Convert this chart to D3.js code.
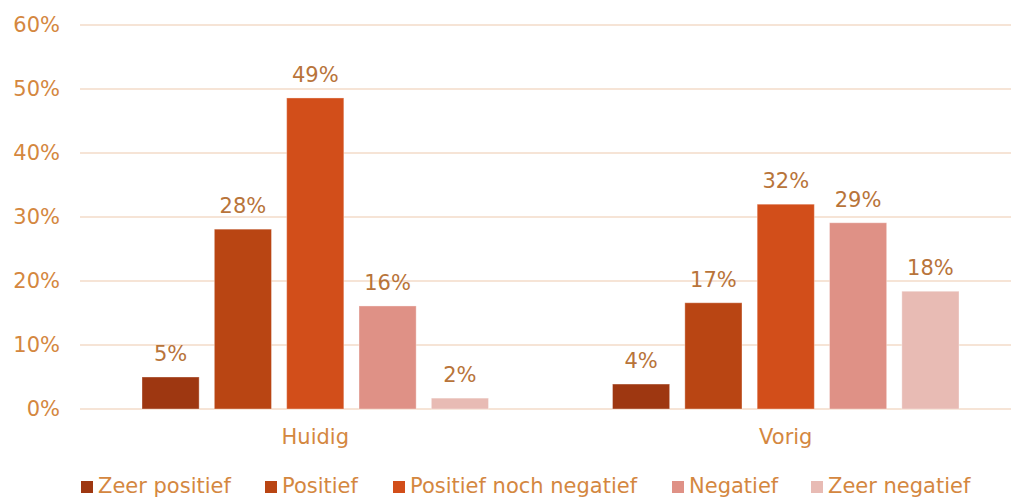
<!DOCTYPE html>
<html>
<head>
<meta charset="utf-8">
<script src="https://cdn.jsdelivr.net/npm/d3@7"></script>
<style>
  html, body { margin: 0; padding: 0; background: #fff; }
  svg { display: block; font-family: Verdana, "DejaVu Sans", sans-serif; }
</style>
</head>
<body>
<svg id="chart" width="1011" height="498"></svg>
<script>
// Periods on the x axis
const categories = ["Huidig", "Vorig"];
// Answer options (legend order)
const series = ["Zeer positief", "Positief", "Positief noch negatief", "Negatief", "Zeer negatief"];
// Shares per period, same order as series
const huidigValues = [0.050, 0.281, 0.486, 0.161, 0.017];
const vorigValues = [0.039, 0.166, 0.320, 0.291, 0.184];
// Y axis ticks
const yTicks = [0, 0.1, 0.2, 0.3, 0.4, 0.5, 0.6];

const colors = ["#9e3711", "#b94513", "#d24e1a", "#df9186", "#e8bbb4"];

const data = categories.map((c, i) => ({
  category: c,
  values: (i === 0 ? huidigValues : vorigValues).map((v, j) => ({ key: series[j], value: v }))
}));

const svg = d3.select("#chart");
const margin = { left: 80, right: -10, top: 25, bottom: 89 };
const width = 1011 - margin.left - margin.right;
const height = 498 - margin.top - margin.bottom;

const g = svg.append("g").attr("transform", `translate(${margin.left},${margin.top})`);

const x0 = d3.scaleBand().domain(categories).range([0, width]).paddingInner(0).paddingOuter(0);
const x1 = d3.scaleBand().domain(series).range([62, x0.bandwidth() - 62]).paddingInner(0.21).paddingOuter(0);
const y = d3.scaleLinear().domain([0, 0.6]).range([height, 0]);

const tickColor = "#d4873f";
const labelColor = "#b8743a";
const gridColor = "#f6e4d6";

// Gridlines
g.append("g")
  .selectAll("line")
  .data(yTicks)
  .join("line")
  .attr("x1", 0)
  .attr("x2", width)
  .attr("y1", d => y(d))
  .attr("y2", d => y(d))
  .attr("stroke", gridColor)
  .attr("stroke-width", 2);

// Y axis labels
const yAxis = g.append("g")
  .call(d3.axisLeft(y).tickValues(yTicks).tickFormat(d3.format(".0%")).tickSize(0).tickPadding(20));
yAxis.select(".domain").remove();
yAxis.selectAll("text")
  .attr("fill", tickColor)
  .style("font-size", "21px")
  .style("font-family", "Verdana, 'DejaVu Sans', sans-serif");

// X axis labels
const xAxis = g.append("g")
  .attr("transform", `translate(0,${height})`)
  .call(d3.axisBottom(x0).tickSize(0).tickPadding(20));
xAxis.select(".domain").remove();
xAxis.selectAll("text")
  .attr("fill", tickColor)
  .style("font-size", "21px")
  .style("font-family", "Verdana, 'DejaVu Sans', sans-serif");

// Bars
const groups = g.selectAll(".grp")
  .data(data)
  .join("g")
  .attr("class", "grp")
  .attr("transform", d => `translate(${x0(d.category)},0)`);

groups.selectAll("rect")
  .data(d => d.values)
  .join("rect")
  .attr("x", d => x1(d.key))
  .attr("width", x1.bandwidth())
  .attr("y", d => y(d.value))
  .attr("height", d => y(0) - y(d.value))
  .attr("fill", (d, i) => colors[i])
  .attr("stroke", "#ffffff")
  .attr("stroke-opacity", 0.35)
  .attr("stroke-width", 1);

// Value labels
groups.selectAll("text.val")
  .data(d => d.values)
  .join("text")
  .attr("class", "val")
  .attr("x", d => x1(d.key) + x1.bandwidth() / 2)
  .attr("y", d => y(d.value) - 16)
  .attr("text-anchor", "middle")
  .attr("fill", labelColor)
  .style("font-size", "21px")
  .text(d => d3.format(".0%")(d.value));

// Legend
const legendX = [81, 265, 393, 672, 811];
const legend = svg.append("g");
const items = legend.selectAll("g")
  .data(series)
  .join("g")
  .attr("transform", (d, i) => `translate(${legendX[i]},0)`);
items.append("rect")
  .attr("x", 0)
  .attr("y", 481)
  .attr("width", 12)
  .attr("height", 12)
  .attr("fill", (d, i) => colors[i]);
items.append("text")
  .attr("x", 17)
  .attr("y", 493)
  .attr("fill", tickColor)
  .style("font-size", "21px")
  .text(d => d);
</script>
</body>
</html>
